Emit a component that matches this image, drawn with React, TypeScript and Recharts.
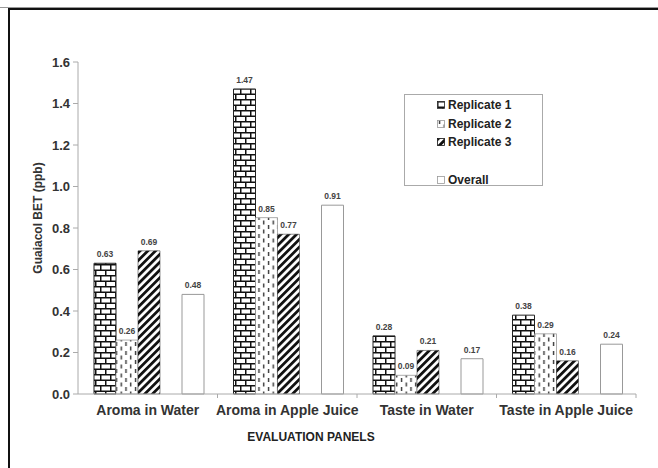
import { Bar, BarChart, LabelList, Legend, XAxis, YAxis, Label } from "recharts"

const categories = ["Aroma in Water", "Aroma in Apple Juice", "Taste in Water", "Taste in Apple Juice"]
const replicate1 = [0.63, 1.47, 0.28, 0.38]
const replicate2 = [0.26, 0.85, 0.09, 0.29]
const replicate3 = [0.69, 0.77, 0.21, 0.16]
const overall = [0.48, 0.91, 0.17, 0.24]
const yTicks = [0, 0.2, 0.4, 0.6, 0.8, 1.0, 1.2, 1.4, 1.6]

const data = categories.map((name, i) => ({
    name,
    rep1: replicate1[i],
    rep2: replicate2[i],
    rep3: replicate3[i],
    overall: overall[i],
}))

const font = "'Liberation Sans', Arial, sans-serif"

const legendRows = [
    { name: "Replicate 1", fill: "url(#brick)", stroke: "#222" },
    { name: "Replicate 2", fill: "url(#dashes)", stroke: "#999" },
    { name: "Replicate 3", fill: "url(#stripes)", stroke: "#111" },
    { name: "", fill: "none", stroke: "none" },
    { name: "Overall", fill: "#fff", stroke: "#999" },
]

function LegendBox() {
    return (
        <div
            style={{
                border: "1px solid #aaa",
                boxSizing: "border-box",
                width: 139,
                height: 92,
                paddingTop: 1,
                fontFamily: font,
                fontWeight: "bold",
                fontSize: 12,
                color: "#222",
            }}
        >
            {legendRows.map((r, i) => (
                <div key={i} style={{ height: 18.6, display: "flex", alignItems: "center", paddingLeft: 32 }}>
                    {r.name && (
                        <svg width={8} height={8} style={{ marginRight: 3 }}>
                            <rect x={0.5} y={0.5} width={7} height={7} fill={r.fill} stroke={r.stroke} strokeWidth={0.8} />
                        </svg>
                    )}
                    <span>{r.name}</span>
                </div>
            ))}
        </div>
    )
}

function CategoryTick(props: any) {
    const { x, y, payload } = props
    const half = payload && payload.offset ? payload.offset : 70
    const axisY = y - 4
    return (
        <g>
            <line x1={x + half} x2={x + half} y1={axisY} y2={axisY + 4} stroke="#aaa" />
            <text x={x} y={y + 17} textAnchor="middle" fontFamily={font} fontWeight="bold" fontSize={14} fill="#333">
                {payload.value}
            </text>
        </g>
    )
}

const labelStyle = { fontFamily: font, fontSize: 8.5, fontWeight: "bold", fill: "#444" }
const fmt = (v: any) => (typeof v === "number" ? v.toFixed(2) : "")

export default function App() {
    return (
        <div style={{ position: "absolute", left: 0, top: 0, width: 658, height: 468, background: "#fff" }}>
            <div style={{ position: "absolute", left: 0, top: 7, width: 658, height: 1, background: "#999" }} />
            <div
                style={{
                    position: "absolute",
                    left: 8,
                    top: 8,
                    width: 650,
                    height: 460,
                    borderTop: "2px solid #111",
                    borderLeft: "2px solid #111",
                    boxSizing: "border-box",
                }}
            />
            <BarChart
                width={658}
                height={468}
                data={data}
                margin={{ top: 62, right: 22, left: 38, bottom: 22 }}
                barCategoryGap={16}
                barGap={0}
            >
                <defs>
                    <pattern id="brick" patternUnits="userSpaceOnUse" width={10} height={11}>
                        <rect width={10} height={11} fill="#fff" />
                        <line x1={0} x2={10} y1={0.75} y2={0.75} stroke="#111" strokeWidth={1.5} />
                        <line x1={0} x2={10} y1={6.25} y2={6.25} stroke="#111" strokeWidth={1.5} />
                        <line x1={0.75} x2={0.75} y1={0} y2={6} stroke="#111" strokeWidth={1.5} />
                        <line x1={5.75} x2={5.75} y1={6} y2={11} stroke="#111" strokeWidth={1.5} />
                    </pattern>
                    <pattern id="dashes" patternUnits="userSpaceOnUse" width={9.5} height={9}>
                        <rect width={9.5} height={9} fill="#fff" />
                        <line x1={2.5} x2={2.5} y1={0} y2={4} stroke="#333" strokeWidth={1.4} />
                        <line x1={7.25} x2={7.25} y1={4.5} y2={8.5} stroke="#333" strokeWidth={1.4} />
                    </pattern>
                    <pattern id="stripes" patternUnits="userSpaceOnUse" width={5.5} height={10} patternTransform="rotate(45)">
                        <rect width={5.5} height={10} fill="#fff" />
                        <rect width={2.8} height={10} fill="#111" />
                    </pattern>
                </defs>
                <XAxis
                    dataKey="name"
                    height={52}
                    tickSize={4}
                    tickMargin={0}
                    tickLine={false}
                    stroke="#aaa"
                    tick={<CategoryTick />}
                    interval={0}
                >
                    <Label
                        value="EVALUATION PANELS"
                        position="insideBottom"
                        offset={5}
                        dx={-46}
                        style={{ fontFamily: font, fontWeight: "bold", fontSize: 12, fill: "#222" }}
                    />
                </XAxis>
                <YAxis
                    width={40}
                    domain={[0, 1.6]}
                    ticks={yTicks}
                    tickFormatter={(v: number) => v.toFixed(1)}
                    tickSize={5}
                    tickMargin={3}
                    stroke="#aaa"
                    tick={{ fontFamily: font, fontWeight: "bold", fontSize: 13, fill: "#333" }}
                    interval={0}
                >
                    <Label
                        value="Guaiacol BET (ppb)"
                        angle={-90}
                        position="insideLeft"
                        offset={0}
                        dy={-10}
                        style={{ fontFamily: font, fontWeight: "bold", fontSize: 12, fill: "#333", textAnchor: "middle" }}
                    />
                </YAxis>
                <Legend
                    layout="vertical"
                    align="center"
                    verticalAlign="middle"
                    content={<LegendBox />}
                    wrapperStyle={{ position: "absolute", left: 404, top: 94, width: 139, height: 92 }}
                />
                <Bar dataKey="rep1" name="Replicate 1" fill="url(#brick)" stroke="#222" strokeWidth={1} isAnimationActive={false}>
                    <LabelList dataKey="rep1" position="top" offset={6} formatter={fmt} style={labelStyle} />
                </Bar>
                <Bar dataKey="rep2" name="Replicate 2" fill="url(#dashes)" stroke="#999" strokeWidth={0.8} isAnimationActive={false}>
                    <LabelList dataKey="rep2" position="top" offset={6} formatter={fmt} style={labelStyle} />
                </Bar>
                <Bar dataKey="rep3" name="Replicate 3" fill="url(#stripes)" stroke="#222" strokeWidth={0.5} isAnimationActive={false}>
                    <LabelList dataKey="rep3" position="top" offset={6} formatter={fmt} style={labelStyle} />
                </Bar>
                <Bar dataKey="spacer" legendType="none" fill="none" isAnimationActive={false} />
                <Bar dataKey="overall" name="Overall" fill="#fff" stroke="#999" strokeWidth={1} isAnimationActive={false}>
                    <LabelList dataKey="overall" position="top" offset={6} formatter={fmt} style={labelStyle} />
                </Bar>
            </BarChart>
        </div>
    )
}
